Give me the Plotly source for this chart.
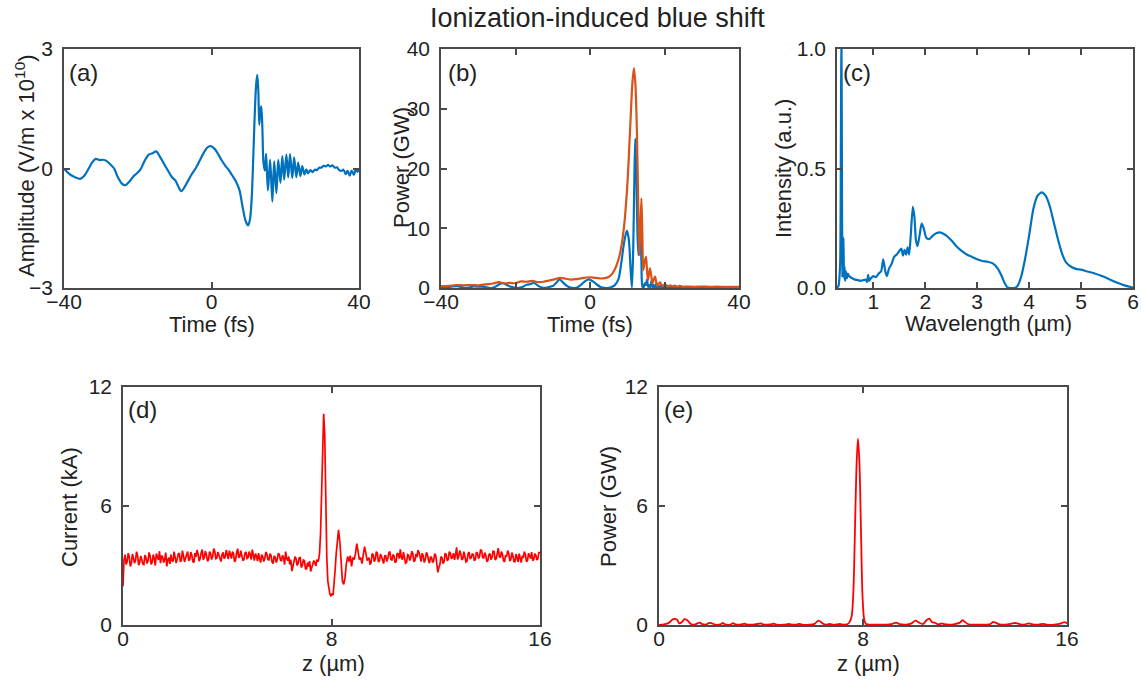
import plotly.graph_objects as go

W, H = 1142, 681

# ---------------- data ----------------
# (a) electric field
a_time = [-40.0, -38.5, -37.0, -35.6, -34.5, -33.3, -32.3, -31.4, -30.3, -29.4, -28.5, -27.4,
          -26.4, -25.4, -24.3, -23.4, -22.3, -21.2, -20.2, -19.3, -18.2, -17.0, -16.0, -15.0,
          -14.0, -12.9, -11.7, -10.7, -9.8, -9.0, -8.2, -7.2, -6.2, -5.2, -4.2, -3.2, -2.2,
          -1.2, -0.3, 0.8, 1.8, 2.8, 3.8, 4.6, 5.6, 6.6, 7.6, 8.4, 9.2, 9.9, 10.4, 10.9, 11.3,
          11.7, 12.1, 12.4, 12.7, 12.95, 13.25, 13.5, 13.8, 14.1, 14.5, 14.8, 15.3, 15.9, 16.5,
          17.0, 17.6, 18.1, 18.7, 19.2, 19.7, 20.3, 20.8, 21.3, 21.9, 22.4, 23.0, 23.5, 24.1,
          24.6, 25.2, 25.7, 26.2, 26.8, 27.4, 28.0, 28.6, 29.2, 29.8, 30.4, 31.0, 31.6, 32.2,
          32.8, 33.4, 34.0, 34.6, 35.2, 35.8, 36.4, 36.9, 37.5, 38.0, 38.6, 39.1, 39.6, 40.0]
a_amp = [0.00, -0.14, -0.22, -0.26, -0.18, 0.00, 0.16, 0.24, 0.21, 0.22, 0.19, 0.10,
         0.00, -0.22, -0.38, -0.42, -0.33, -0.20, -0.12, -0.03, 0.18, 0.35, 0.38, 0.43,
         0.30, 0.12, -0.07, -0.22, -0.30, -0.45, -0.57, -0.45, -0.28, -0.12, 0.02, 0.20, 0.38,
         0.52, 0.56, 0.50, 0.36, 0.20, 0.06, -0.03, -0.17, -0.32, -0.55, -0.95, -1.30, -1.43,
         -1.30, -0.75, 0.20, 1.30, 2.10, 2.35, 1.95, 1.10, 1.45, 1.56, 1.00, 0.15, -0.05, 0.37,
         -0.55, 0.22, -0.83, 0.18, -0.62, 0.22, -0.36, 0.31, -0.28, 0.35, -0.22, 0.36, -0.24,
         0.28, -0.22, 0.15, -0.19, 0.06, -0.15, -0.02, -0.12, -0.04, -0.09, -0.03, -0.04, 0.02,
         0.02, 0.07, 0.05, 0.09, 0.05, 0.08, 0.02, 0.03, -0.04, -0.06, -0.03, -0.14, -0.06,
         -0.18, -0.05, -0.16, -0.03, -0.08, -0.02]

# (b) power: instantaneous (blue) and envelope (orange)
b_time_blue = [-40.0, -38.5, -37.0, -35.6, -34.5, -33.3, -32.3, -31.2, -29.8, -28.3, -27.3, -26.4,
               -25.3, -24.3, -23.4, -22.3, -21.2, -20.2, -19.3, -18.2, -17.0, -16.0, -15.0, -14.0,
               -12.9, -11.7, -10.7, -9.8, -9.0, -8.2, -7.2, -6.2, -5.2, -4.3, -3.2, -2.2, -1.2,
               -0.3, 0.8, 1.8, 2.8, 3.8, 4.6, 5.6, 6.6, 7.6, 8.4, 9.2, 9.9, 10.4, 10.9, 11.25,
               11.6, 11.9, 12.15, 12.45, 12.75, 13.0, 13.3, 13.5, 13.8, 14.1, 14.4, 14.7, 15.0,
               15.3, 15.6, 15.9, 16.2, 16.5, 16.8, 17.1, 17.4, 17.7, 18.0, 18.3, 18.6, 18.9, 19.2,
               19.5, 19.8, 20.2, 20.6, 21.1, 21.6, 22.1, 22.7, 23.2, 23.8, 24.5, 25.5, 28.0, 32.0,
               36.0, 40.0]
b_power_blue = [0.0, 0.1, 0.25, 0.32, 0.15, 0.0, 0.12, 0.25, 0.22, 0.2, 0.05, 0.0,
                0.25, 0.65, 0.8, 0.5, 0.18, 0.06, 0.0, 0.15, 0.55, 0.65, 0.85, 0.4,
                0.07, 0.02, 0.22, 0.4, 0.9, 1.45, 0.9, 0.35, 0.07, 0.0, 0.18, 0.65, 1.2,
                1.45, 1.1, 0.6, 0.18, 0.02, 0.0, 0.13, 0.45, 1.4, 4.2, 7.8, 9.6, 8.2, 3.2, 0.1,
                6.5, 18.0, 25.0, 19.0, 9.0, 5.5, 9.0, 10.5, 4.5, 0.2, 0.1, 0.8, 0.5,
                1.4, 0.2, 0.5, 0.1, 1.2, 0.1, 0.5, 0.1, 0.7, 0.05, 0.3, 0.05, 0.4, 0.05,
                0.3, 0.02, 0.3, 0.02, 0.3, 0.02, 0.25, 0.02, 0.15, 0.02, 0.08, 0.02, 0.01, 0.02,
                0.03, 0.01]
b_time_orange = [-40, -38, -36, -34, -32, -30, -28, -26, -24.5, -23, -21.5, -20, -18.5, -17,
                 -15.5, -14, -12.5, -11, -9.5, -8, -6.5, -5, -3.5, -2, -0.5, 1, 2.5, 4, 5, 6, 7,
                 8, 9, 10, 10.8, 11.4, 11.8, 12.2, 12.6, 12.95, 13.25, 13.5, 13.8, 14.05, 14.3,
                 14.7, 15.03, 15.3, 15.57, 15.85, 16.1, 16.45, 16.8, 17.1, 17.45, 17.75, 18.07,
                 18.4, 18.8, 19.15, 19.5, 19.9, 20.4, 21, 21.6, 22.2, 22.8, 23.4, 24, 25, 26, 28,
                 30, 32, 34, 36, 38, 40]
b_power_orange = [0.3, 0.35, 0.5, 0.45, 0.5, 0.45, 0.6, 0.75, 1.0, 0.75, 0.85, 0.8, 1.1, 1.05,
                  1.2, 1.0, 1.05, 1.25, 1.45, 1.7, 1.55, 1.4, 1.5, 1.65, 1.8, 1.75, 1.6, 1.65, 1.85,
                  2.4, 3.6, 5.6, 9.5, 17.0, 27.0, 34.5, 36.8, 34.0, 26.0, 14.0, 5.5, 9.0, 15.0, 9.0,
                  3.0, 4.5, 5.2, 3.0, 1.3, 2.4, 3.3, 2.0, 0.8, 1.4, 1.9, 1.1, 0.35, 0.7, 0.95, 0.55,
                  0.3, 0.55, 0.5, 0.25, 0.45, 0.25, 0.4, 0.2, 0.35, 0.2, 0.25, 0.2, 0.25, 0.2, 0.22,
                  0.2, 0.2, 0.2]

# (c) spectrum
c_wavelength = [0.30, 0.33, 0.36, 0.375, 0.385, 0.395, 0.405, 0.415, 0.425, 0.435, 0.445, 0.455,
                0.47, 0.49, 0.51, 0.53, 0.56, 0.60, 0.65, 0.70, 0.75, 0.80, 0.85, 0.88, 0.90, 0.92,
                0.95, 1.00, 1.05, 1.10, 1.15, 1.19, 1.23, 1.26, 1.30, 1.35, 1.40, 1.45, 1.50, 1.54,
                1.57, 1.60, 1.63, 1.66, 1.69, 1.72, 1.76, 1.79, 1.82, 1.85, 1.89, 1.93, 1.97, 2.02,
                2.08, 2.15, 2.22, 2.30, 2.40, 2.50, 2.60, 2.70, 2.80, 2.90, 3.00, 3.10, 3.20, 3.30,
                3.40, 3.47, 3.53, 3.58, 3.65, 3.72, 3.78, 3.85, 3.92, 4.00, 4.08, 4.16, 4.24, 4.32,
                4.40, 4.48, 4.56, 4.64, 4.72, 4.80, 4.90, 5.00, 5.10, 5.25, 5.40, 5.55, 5.70, 5.85,
                6.00]
c_intensity = [0.00, 0.01, 0.10, 0.60, 1.10, 0.50, 0.05, 0.08, 0.21, 0.04, 0.09, 0.03,
               0.07, 0.04, 0.06, 0.05, 0.045, 0.04, 0.035, 0.033, 0.03, 0.032, 0.035, 0.025, 0.055,
               0.03, 0.04, 0.05, 0.045, 0.06, 0.07, 0.12, 0.07, 0.05, 0.08, 0.10, 0.13, 0.14, 0.155,
               0.165, 0.135, 0.16, 0.14, 0.17, 0.14, 0.22, 0.34, 0.30, 0.20, 0.175, 0.22, 0.27, 0.25,
               0.21, 0.205, 0.22, 0.23, 0.232, 0.22, 0.20, 0.175, 0.155, 0.14, 0.13, 0.12, 0.113,
               0.11, 0.103, 0.08, 0.05, 0.02, 0.003, 0.0, 0.0, 0.01, 0.05, 0.12, 0.22, 0.33, 0.385,
               0.40, 0.385, 0.34, 0.27, 0.20, 0.14, 0.105, 0.09, 0.08, 0.077, 0.07, 0.062, 0.05,
               0.036, 0.022, 0.01, 0.002]

# (d) current profile: noisy baseline left of the spike (sampled every 0.04 um from 0),
#     the spike region, and the baseline right of it (every 0.04 um from 9.44 um)
d_step = 0.04
d_left_start = 0.0
d_left_current = [
    1.95, 3.30, 3.55, 3.05, 3.20, 3.62, 3.45, 2.95, 3.10, 3.58, 3.38, 3.12, 3.25, 3.70, 3.50, 3.02, 3.15, 3.48, 3.30, 3.08,
    3.05, 3.52, 3.40, 3.10, 3.22, 3.66, 3.48, 3.05, 3.18, 3.55, 3.35, 3.00, 3.60, 3.35, 3.28, 3.72, 3.12, 3.50, 3.42, 3.15,
    3.30, 3.65, 2.95, 3.30, 3.40, 3.08, 3.55, 3.25, 3.20, 3.70, 3.45, 3.12, 3.32, 3.58, 3.62, 3.20, 3.25, 3.75, 3.48, 3.18,
    3.36, 3.60, 3.70, 3.25, 3.30, 3.68, 3.52, 3.20, 3.15, 3.62, 3.44, 3.78, 3.58, 3.22, 3.35, 3.65, 3.80, 3.30, 3.40, 3.72,
    3.55, 3.22, 3.28, 3.70, 3.62, 3.30, 3.45, 3.85, 3.72, 3.35, 3.38, 3.68, 3.50, 3.28, 3.20, 3.55, 3.66, 3.35, 3.42, 3.78,
    3.58, 3.32, 3.75, 3.45, 3.35, 3.70, 3.60, 3.18, 3.28, 3.66, 3.85, 3.40, 3.45, 3.75, 3.52, 3.25, 3.30, 3.62, 3.68, 3.36,
    3.40, 3.70, 3.55, 3.30, 3.80, 3.42, 3.25, 3.60, 3.48, 3.22, 3.62, 3.35, 3.15, 3.55, 3.45, 3.20, 3.35, 3.68, 3.58, 3.30,
    3.28, 3.60, 3.50, 3.18, 3.10, 3.48, 3.42, 3.15, 3.30, 3.62, 3.55, 3.28, 3.22, 3.52, 3.38, 3.05, 3.70, 3.35, 3.25, 3.45,
    3.05, 3.30, 2.72, 2.95, 3.20, 3.45, 3.35, 3.00, 3.12, 3.38, 3.40, 2.90, 3.00, 3.28, 3.25, 2.85, 2.80, 3.15, 2.95, 3.22,
    2.70, 2.88, 3.05, 3.25, 3.15, 2.98, 3.30, 3.20]
d_mid_z = [7.50, 7.54, 7.58, 7.62, 7.66, 7.70, 7.74, 7.78, 7.82, 7.86, 7.90, 7.94, 7.98, 8.02,
           8.06, 8.10, 8.14, 8.18, 8.22, 8.27, 8.32, 8.37, 8.42, 8.47, 8.52, 8.57, 8.62, 8.67,
           8.72, 8.77, 8.82, 8.87, 8.92, 8.97, 9.02, 9.07, 9.12, 9.17, 9.22, 9.27, 9.32, 9.37]
d_mid_current = [3.25, 3.60, 4.60, 6.80, 9.20, 10.65, 9.60, 6.20, 3.40, 2.20, 1.70, 1.55, 1.45,
                 1.60, 1.50, 2.00, 2.80, 3.60, 4.30, 4.80, 4.20, 3.00, 2.20, 2.05, 2.40, 3.10,
                 3.45, 3.20, 3.50, 2.95, 3.40, 3.30, 3.60, 4.10, 3.70, 3.30, 3.40, 3.10, 3.55,
                 3.95, 3.60, 3.25]
d_right_start = 9.44
d_right_current = [
    3.40, 3.05, 3.15, 3.60, 3.55, 3.20, 3.30, 3.70, 3.62, 3.18, 3.25, 3.58, 3.45, 3.22, 3.10, 3.48, 3.50, 3.20, 3.35, 3.65,
    3.70, 3.30, 3.28, 3.55, 3.48, 3.15, 3.20, 3.62, 3.58, 3.35, 3.82, 3.40, 3.30, 3.68, 3.45, 3.12, 3.15, 3.55, 3.52, 3.25,
    3.38, 3.72, 3.60, 3.20, 3.25, 3.58, 3.42, 3.78, 3.65, 3.30, 3.20, 3.62, 3.48, 3.15, 3.30, 3.66, 3.55, 3.28, 3.12, 3.45,
    3.40, 3.15, 3.25, 3.60, 3.50, 3.10, 2.65, 2.90, 3.05, 3.45, 3.38, 3.10, 3.20, 3.62, 3.55, 3.25, 3.30, 3.70, 3.62, 3.35,
    3.40, 3.62, 3.28, 3.55, 3.92, 3.30, 3.45, 3.75, 3.60, 3.28, 3.35, 3.70, 3.50, 3.18, 3.22, 3.60, 3.68, 3.32, 3.40, 3.58,
    3.55, 3.25, 3.30, 3.68, 3.62, 3.35, 3.45, 3.80, 3.75, 3.40, 3.38, 3.65, 3.52, 3.20, 3.25, 3.55, 3.60, 3.30, 3.42, 3.72,
    3.70, 3.28, 3.35, 3.60, 3.88, 3.45, 3.40, 3.70, 3.55, 3.25, 3.18, 3.52, 3.45, 3.75, 3.62, 3.22, 3.30, 3.65, 3.50, 3.20,
    3.20, 3.58, 3.42, 3.18, 3.60, 3.30, 3.15, 3.50, 3.38, 3.70, 3.55, 3.20, 3.25, 3.62, 3.48, 3.35, 3.68, 3.25, 3.30, 3.60,
    3.52, 3.28, 3.35, 3.68, 3.60]

# (e) radiation power
e_z = [0.0, 0.2, 0.4, 0.55, 0.7, 0.8, 0.9, 1.0, 1.1, 1.25, 1.4, 1.5, 1.6, 1.7, 1.85, 1.95, 2.05,
       2.2, 2.4, 2.5, 2.6, 2.8, 2.9, 3.0, 3.2, 3.35, 3.45, 3.7, 3.9, 4.0, 4.1, 4.35, 4.5, 4.6, 4.9,
       5.1, 5.2, 5.4, 5.5, 5.6, 5.9, 6.1, 6.25, 6.4, 6.5, 6.7, 6.85, 7.1, 7.2, 7.35, 7.45, 7.55,
       7.62, 7.68, 7.74, 7.80, 7.86, 7.92, 7.98, 8.05, 8.12, 8.3, 8.6, 8.9, 9.1, 9.3, 9.45, 9.7,
       9.9, 10.05, 10.2, 10.35, 10.5, 10.6, 10.7, 10.85, 10.95, 11.1, 11.2, 11.4, 11.6, 11.8, 11.9,
       12.0, 12.15, 12.4, 12.7, 13.0, 13.1, 13.2, 13.35, 13.6, 13.8, 13.95, 14.1, 14.3, 14.5, 14.7,
       14.9, 15.05, 15.2, 15.5, 15.8, 15.9, 16.0]
e_power = [0.0, 0.03, 0.12, 0.30, 0.28, 0.08, 0.15, 0.30, 0.25, 0.05, 0.02, 0.08, 0.12, 0.04,
           0.02, 0.10, 0.10, 0.02, 0.03, 0.10, 0.03, 0.02, 0.09, 0.03, 0.02, 0.07, 0.02, 0.02, 0.06,
           0.08, 0.02, 0.03, 0.07, 0.02, 0.02, 0.05, 0.02, 0.02, 0.06, 0.02, 0.02, 0.06, 0.22, 0.10,
           0.02, 0.05, 0.01, 0.05, 0.02, 0.03, 0.10, 0.40, 1.60, 4.50, 7.80, 9.40, 8.20, 4.80, 1.50,
           0.25, 0.05, 0.02, 0.02, 0.02, 0.04, 0.12, 0.04, 0.02, 0.08, 0.22, 0.12, 0.05, 0.25, 0.32,
           0.15, 0.10, 0.03, 0.08, 0.04, 0.02, 0.05, 0.12, 0.24, 0.15, 0.03, 0.02, 0.02, 0.05, 0.15,
           0.12, 0.03, 0.02, 0.06, 0.10, 0.06, 0.02, 0.08, 0.02, 0.02, 0.06, 0.02, 0.02, 0.10, 0.15,
           0.08]

# ticks
a_xticks = [-40, 0, 40]
a_yticks = [-3, 0, 3]
b_xticks = [-40, 0, 40]
b_xminor = 20
b_yticks = [0, 10, 20, 30, 40]
c_xticks = [1, 2, 3, 4, 5, 6]
c_yticks = [0, 0.5, 1.0]
c_yticktext = ["0.0", "0.5", "1.0"]
de_xticks = [0, 8, 16]
de_yticks = [0, 6, 12]

# ---------------- styling ----------------
BLUE = "#0072BD"
ORANGE = "#D95319"
RED = "#FF0000"
FRAME = "#4a4a4a"
TXT = "#222222"
FONT = "Liberation Sans, Arial, Helvetica, sans-serif"
TICKSIZE = 21


def px(x):
    return x / W


def py(y):
    return 1 - y / H


d_z = ([round(d_left_start + d_step * i, 2) for i in range(len(d_left_current))]
       + d_mid_z
       + [round(d_right_start + d_step * i, 2) for i in range(len(d_right_current))])
d_current = d_left_current + d_mid_current + d_right_current

fig = go.Figure()
fig.add_trace(go.Scatter(x=a_time, y=a_amp, mode="lines", xaxis="x", yaxis="y",
                         line=dict(color=BLUE, width=2.2, shape="spline", smoothing=0.9)))
fig.add_trace(go.Scatter(x=b_time_blue, y=b_power_blue, mode="lines", xaxis="x2", yaxis="y2",
                         line=dict(color=BLUE, width=2.2, shape="spline", smoothing=0.8)))
fig.add_trace(go.Scatter(x=b_time_orange, y=b_power_orange, mode="lines", xaxis="x2", yaxis="y2",
                         line=dict(color=ORANGE, width=2.2, shape="spline", smoothing=0.8)))
fig.add_trace(go.Scatter(x=c_wavelength, y=c_intensity, mode="lines", xaxis="x3", yaxis="y3",
                         line=dict(color=BLUE, width=2.2, shape="spline", smoothing=0.6)))
fig.add_trace(go.Scatter(x=d_z, y=d_current, mode="lines", xaxis="x4", yaxis="y4",
                         line=dict(color=RED, width=1.7)))
fig.add_trace(go.Scatter(x=e_z, y=e_power, mode="lines", xaxis="x5", yaxis="y5",
                         line=dict(color=RED, width=1.8, shape="spline", smoothing=0.8)))


def axis(domain, anchor, rng, tickvals, ticktext=None, mirror="ticks", standoff=0):
    d = dict(domain=domain, anchor=anchor, range=rng, tickmode="array", tickvals=tickvals,
             showline=True, linecolor=FRAME, linewidth=1.5, mirror=mirror,
             ticks="inside", ticklen=6, tickwidth=1.5, tickcolor=FRAME,
             showgrid=False, zeroline=False, fixedrange=True, automargin=False,
             ticklabelstandoff=standoff,
             tickfont=dict(family=FONT, size=TICKSIZE, color=TXT))
    if ticktext is not None:
        d["ticktext"] = ticktext
    return d


xa = [px(64), px(359)]
xb = [px(441), px(739)]
xc = [px(837), px(1133)]
xd = [px(123), px(540)]
xe = [px(659), px(1067)]
ytop = [py(288), py(49)]
ybot = [py(625), py(387)]
XOFF = -6   # x tick labels sit close to the frame
YOFF = 5

xaxis2 = axis(xb, "y2", [-40, 40], b_xticks, standoff=XOFF)
xaxis2["minor"] = dict(tickmode="linear", tick0=0, dtick=b_xminor, ticks="inside", ticklen=6,
                       tickwidth=1.5, tickcolor=FRAME, showgrid=False)

layout = dict(
    width=W, height=H, autosize=False,
    margin=dict(l=0, r=0, t=0, b=0, pad=0, autoexpand=False),
    paper_bgcolor="white", plot_bgcolor="white",
    showlegend=False,
    font=dict(family=FONT, size=21, color=TXT),
    xaxis=axis(xa, "y", [-40, 40], a_xticks, standoff=XOFF),
    yaxis=axis(ytop, "x", [-3, 3], a_yticks, standoff=YOFF),
    xaxis2=xaxis2,
    yaxis2=axis(ytop, "x2", [0, 40], b_yticks, mirror=True, standoff=YOFF),
    yaxis6=dict(overlaying="y2", anchor="x2", side="right", range=[0, 3], tickmode="array",
                tickvals=[1, 2], ticks="inside", ticklen=6, tickwidth=1.5, tickcolor=FRAME,
                showticklabels=False, showline=False, showgrid=False, zeroline=False,
                fixedrange=True, automargin=False),
    xaxis3=axis(xc, "y3", [0.3, 6], c_xticks, standoff=XOFF),
    yaxis3=axis(ytop, "x3", [0, 1], c_yticks, c_yticktext, standoff=YOFF),
    xaxis4=axis(xd, "y4", [0, 16], de_xticks, standoff=XOFF),
    yaxis4=axis(ybot, "x4", [0, 12], de_yticks, standoff=YOFF),
    xaxis5=axis(xe, "y5", [0, 16], de_xticks, standoff=XOFF),
    yaxis5=axis(ybot, "x5", [0, 12], de_yticks, standoff=YOFF),
)


def ann(text, x, y, size=21, angle=0, xanchor="center"):
    return dict(text=text, x=px(x), y=py(y), xref="paper", yref="paper", showarrow=False,
                xanchor=xanchor, yanchor="middle", textangle=angle,
                font=dict(family=FONT, size=size, color=TXT))


annotations = [
    ann("Ionization-induced blue shift", 597, 18, size=27),
    # x titles
    ann("Time (fs)", 212, 325, size=22),
    ann("Time (fs)", 590, 325, size=22),
    ann("Wavelength (\u00b5m)", 988, 324, size=22),
    ann("z (\u00b5m)", 333, 663, size=22),
    ann("z (\u00b5m)", 868, 663, size=22),
    # y titles
    ann("Amplitude (V/m x 10<sup>10</sup>)", 25, 166, size=22, angle=-90),
    ann("Power (GW)", 401, 168, size=22, angle=-90),
    ann("Intensity (a.u.)", 783, 169, size=22, angle=-90),
    ann("Current (kA)", 69, 507, size=22, angle=-90),
    ann("Power (GW)", 608, 507, size=22, angle=-90),
    # panel labels
    ann("(a)", 67, 73, size=24, xanchor="left"),
    ann("(b)", 446, 73, size=24, xanchor="left"),
    ann("(c)", 841, 73, size=24, xanchor="left"),
    ann("(d)", 126, 409, size=24, xanchor="left"),
    ann("(e)", 662, 409, size=24, xanchor="left"),
]
layout["annotations"] = annotations

fig.update_layout(**layout)
fig.write_html("out.html")
